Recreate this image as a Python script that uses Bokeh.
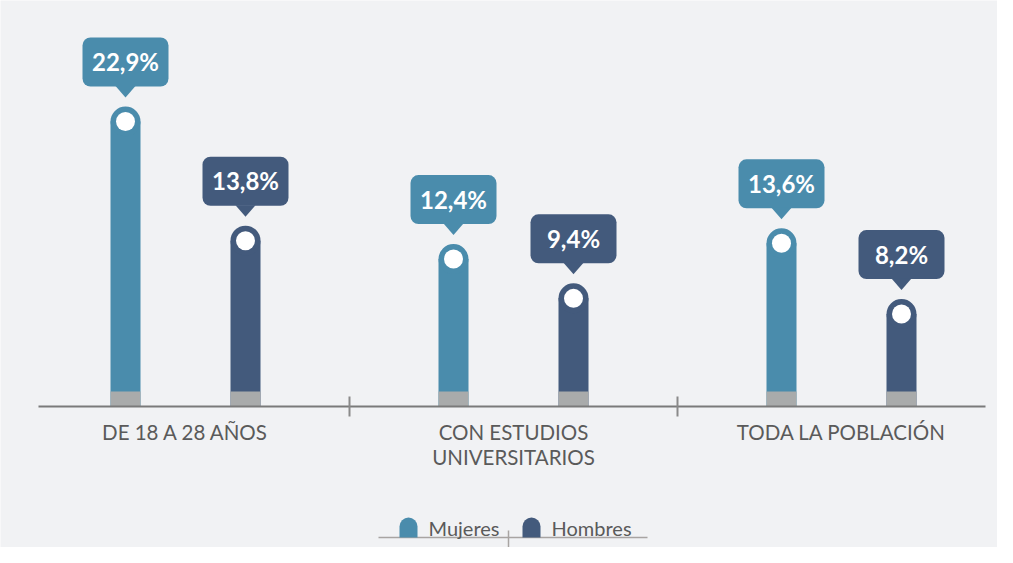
from bokeh.plotting import figure
from bokeh.models import Range1d, ColumnDataSource
from bokeh.core.properties import value
from bokeh.embed import file_html
from bokeh.resources import INLINE

# ---- data ----
categories = ["DE 18 A 28 AÑOS", "CON ESTUDIOS\nUNIVERSITARIOS", "TODA LA POBLACIÓN"]
series_names = ["Mujeres", "Hombres"]
mujeres = [22.9, 12.4, 13.6]
hombres = [13.8, 9.4, 8.2]

# ---- style ----
C_MUJ = "#4a8cac"
C_HOM = "#435a7c"
C_BASE = "#a9abab"
BG = "#f1f2f4"
TXT = "#5a5a5a"
W, H = 997, 547
PX_X = 328.0      # px per group unit
PX_Y = 13.1       # px per percentage point
X0 = 21.0         # canvas x of group 0 left
Y0 = 406.0        # canvas y of value 0

def dx(px):
    return px / PX_X

def dy(px):
    return px / PX_Y

p = figure(width=W, height=H, output_backend="svg", toolbar_location=None,
           x_range=Range1d(-X0 / PX_X, (W - X0) / PX_X),
           y_range=Range1d(-(H - Y0) / PX_Y, Y0 / PX_Y),
           min_border=0, x_axis_type=None, y_axis_type=None)
p.grid.visible = False
p.outline_line_color = None
p.background_fill_color = BG
p.border_fill_color = BG

offset = dx(60)
bar_w = dx(30)
r_cap = 15

for i, (vals, col) in enumerate([(mujeres, C_MUJ), (hombres, C_HOM)]):
    xs = [g + 0.5 + (-offset if i == 0 else offset) for g in range(len(categories))]
    labels = [f"{v:.1f}".replace(".", ",") + "%" for v in vals]
    cap_y = [v - dy(r_cap) for v in vals]
    src = ColumnDataSource(dict(x=xs, v=vals, cap=cap_y, lab=labels,
                                bb=[v + dy(20) for v in vals],
                                bt=[v + dy(69) for v in vals],
                                ty=[v + dy(45) for v in vals]))
    # bar body
    p.vbar(x="x", bottom=0, top="cap", width=bar_w, source=src, fill_color=col, line_color=None)
    # rounded cap
    p.circle(x="x", y="cap", radius=dx(r_cap), source=src, fill_color=col, line_color=None)
    # grey base
    p.vbar(x="x", bottom=0, top=dy(15), width=bar_w, source=src, fill_color=C_BASE, line_color=None)
    # white dot
    p.circle(x="x", y="cap", radius=dx(9.5), source=src, fill_color="white", line_color=None)
    # callout box
    p.vbar(x="x", bottom="bb", top="bt", width=dx(86), source=src, fill_color=col,
           line_color=None, border_radius=8)
    # callout pointer
    txs = [[x - dx(10), x + dx(10), x] for x in xs]
    tys = [[v + dy(20.5), v + dy(20.5), v + dy(9)] for v in vals]
    p.patches(txs, tys, fill_color=col, line_color=None)
    # value text
    p.text(x="x", y="ty", text="lab", source=src, text_color="white",
           text_font=value("Lato"), text_font_style="bold", text_font_size="24px",
           text_align="center", text_baseline="middle")

# axis line and separators
p.segment(x0=[dx(38 - X0)], y0=[0], x1=[dx(985 - X0)], y1=[0], line_color="#7a7a7a", line_width=2)
p.segment(x0=[1, 2], y0=[dy(10)] * 2, x1=[1, 2], y1=[-dy(10)] * 2, line_color="#8a8a8a", line_width=2)

# category labels
p.text(x=[g + 0.5 for g in range(len(categories))], y=[-dy(13)] * 3, text=categories,
       text_color=TXT, text_font=value("Lato"), text_font_size="20.5px",
       text_align="center", text_baseline="top", text_line_height=1.05)

# legend
ly = -dy(131)
p.segment(x0=[dx(378 - X0)], y0=[ly], x1=[dx(647 - X0)], y1=[ly], line_color="#a8a4a2", line_width=1.5)
p.segment(x0=[dx(508 - X0)], y0=[ly + dy(7)], x1=[dx(508 - X0)], y1=[ly - dy(10)],
          line_color="#a8a4a2", line_width=1.5)
mk_x = [dx(408 - X0), dx(531 - X0)]
for mx, col, name in zip(mk_x, [C_MUJ, C_HOM], series_names):
    p.vbar(x=[mx], bottom=[ly], top=[ly + dy(20)], width=dx(18), fill_color=col,
           line_color=None, border_radius=(9, 9, 0, 0))
    p.text(x=[mx + dx(20)], y=[ly + dy(10)], text=[name], text_color=TXT,
           text_font=value("Lato"), text_font_size="20px", text_baseline="middle")

open("out.html", "w").write(file_html(p, INLINE))
